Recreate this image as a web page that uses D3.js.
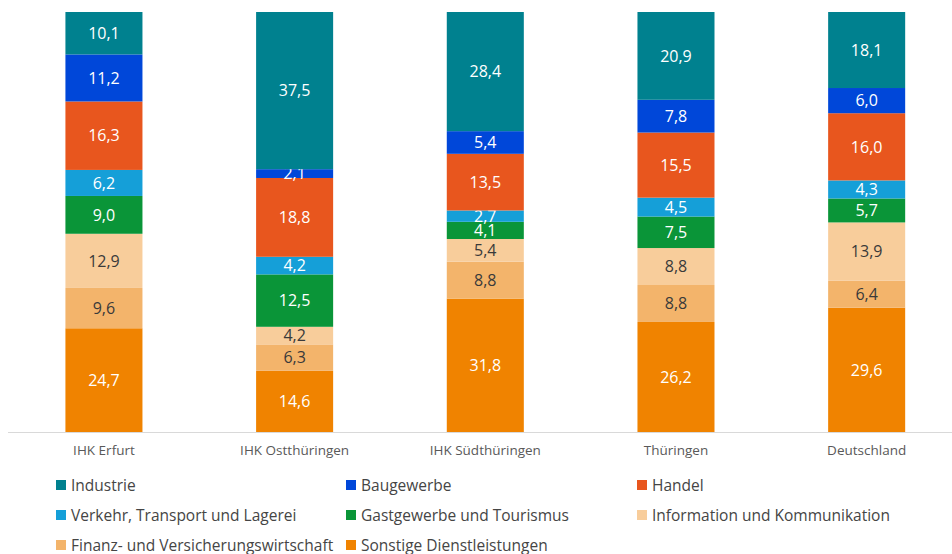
<!DOCTYPE html>
<html>
<head>
<meta charset="utf-8">
<script src="https://cdn.jsdelivr.net/npm/d3@7"></script>
<style>
  body { margin: 0; background: #fff; }
  svg { display: block; font-family: "Open Sans", "Noto Sans", sans-serif; }
</style>
</head>
<body>
<script>
const regions = ['IHK Erfurt', 'IHK Ostthüringen', 'IHK Südthüringen', 'Thüringen', 'Deutschland'];

const sectors = [
  'Industrie', 'Baugewerbe', 'Handel',
  'Verkehr, Transport und Lagerei', 'Gastgewerbe und Tourismus', 'Information und Kommunikation',
  'Finanz- und Versicherungswirtschaft', 'Sonstige Dienstleistungen'
];

const industrie   = [10.1, 37.5, 28.4, 20.9, 18.1];
const baugewerbe  = [11.2,  2.1,  5.4,  7.8,  6.0];
const handel      = [16.3, 18.8, 13.5, 15.5, 16.0];
const verkehr     = [ 6.2,  4.2,  2.7,  4.5,  4.3];
const gastgewerbe = [ 9.0, 12.5,  4.1,  7.5,  5.7];
const information = [12.9,  4.2,  5.4,  8.8, 13.9];
const finanz      = [ 9.6,  6.3,  8.8,  8.8,  6.4];
const sonstige    = [24.7, 14.6, 31.8, 26.2, 29.6];

const colors = ['#00818f', '#0047d9', '#e8561e', '#159fd8', '#0a9538', '#f8cd9b', '#f3b46b', '#f08300'];
const darkText = new Set(['Information und Kommunikation', 'Finanz- und Versicherungswirtschaft']);

const series = [industrie, baugewerbe, handel, verkehr, gastgewerbe, information, finanz, sonstige];

const width    = 952,
      height   = 554,
      barTop   = 12,
      baseline = 432;

const table = regions.map((r, i) => {
  const row = { region: r };
  sectors.forEach((s, j) => row[s] = series[j][i]);
  return row;
});

// stack bottom-up: Sonstige first, Industrie on top
const stack = d3.stack()
  .keys(sectors.slice().reverse())
  .offset(d3.stackOffsetExpand);

const layers = stack(table);

const x = d3.scaleBand()
  .domain(regions)
  .range([8.6, 962])
  .paddingInner(0.596)
  .paddingOuter(0.298);

const y = d3.scaleLinear().domain([0, 1]).range([baseline, barTop]);

const color = d3.scaleOrdinal().domain(sectors).range(colors);

const svg = d3.select('body').append('svg')
  .attr('width', width)
  .attr('height', height);

const groups = svg.append('g').selectAll('g')
  .data(layers)
  .join('g')
  .attr('fill', d => color(d.key));

groups.selectAll('rect')
  .data(d => d)
  .join('rect')
  .attr('x', d => x(d.data.region))
  .attr('y', d => y(d[1]))
  .attr('width', x.bandwidth())
  .attr('height', d => y(d[0]) - y(d[1]));

groups.selectAll('text')
  .data(d => d.map(v => Object.assign(v, { key: d.key })))
  .join('text')
  .attr('x', d => x(d.data.region) + x.bandwidth() / 2)
  .attr('y', d => (y(d[0]) + y(d[1])) / 2)
  .attr('dy', '0.36em')
  .attr('text-anchor', 'middle')
  .attr('font-size', 16)
  .attr('fill', d => darkText.has(d.key) ? '#3a3a3a' : '#fff')
  .text(d => d.data[d.key].toFixed(1).replace('.', ','));

// baseline
svg.append('line')
  .attr('x1', 8).attr('x2', width)
  .attr('y1', baseline + 0.5).attr('y2', baseline + 0.5)
  .attr('stroke', '#d9d9d9');

const xAxis = svg.append('g')
  .attr('transform', `translate(0,${baseline})`)
  .call(d3.axisBottom(x).tickSize(0).tickPadding(13));

xAxis.select('.domain').remove();
xAxis.selectAll('text')
  .attr('font-size', 13.5)
  .attr('font-family', '"Open Sans", sans-serif')
  .attr('fill', '#595959');

// legend, three columns
const legendX = [56, 346, 637];
const legendY = [485, 515, 545];

const legend = svg.append('g').selectAll('g')
  .data(sectors)
  .join('g')
  .attr('transform', (d, i) => `translate(${legendX[i % 3]},${legendY[Math.floor(i / 3)]})`);

legend.append('rect')
  .attr('x', 0).attr('y', -5)
  .attr('width', 10).attr('height', 10)
  .attr('fill', d => color(d));

legend.append('text')
  .attr('x', 15)
  .attr('dy', '0.36em')
  .attr('font-size', 15.5)
  .attr('fill', '#454545')
  .text(d => d);
</script>
</body>
</html>
